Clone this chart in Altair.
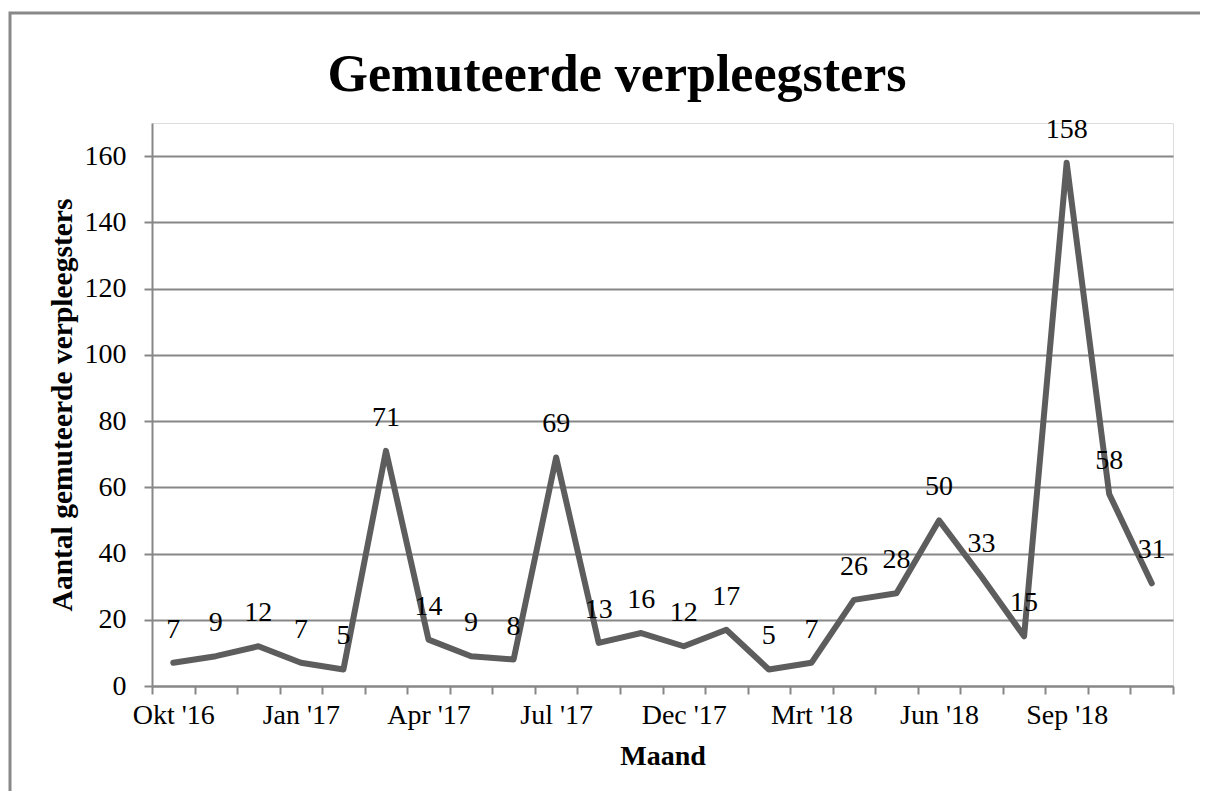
import json
import altair as alt
import pandas as pd

months = ["Okt '16", "Nov '16", "Dec '16", "Jan '17", "Feb '17", "Mrt '17",
          "Apr '17", "Mei '17", "Jun '17", "Jul '17", "Okt '17", "Nov '17",
          "Dec '17", "Jan '18", "Feb '18", "Mrt '18", "Apr '18", "Mei '18",
          "Jun '18", "Jul '18", "Aug '18", "Sep '18", "Okt '18", "Nov '18"]
values = [7, 9, 12, 7, 5, 71, 14, 9, 8, 69, 13, 16, 12, 17, 5, 7, 26, 28,
          50, 33, 15, 158, 58, 31]
shown_labels = months[::3]
y_ticks = [0, 20, 40, 60, 80, 100, 120, 140, 160]
title_text = "Gemuteerde verpleegsters"

df = pd.DataFrame({"maand": months, "aantal": values})

FONT = "Liberation Serif"
GRID = "#878787"
LINE = "#5d5d5d"

label_expr = ("indexof(" + json.dumps(shown_labels) +
              ", datum.value) >= 0 ? datum.value : ''")

x_enc = alt.X("maand:N", sort=months,
              scale=alt.Scale(type="band", paddingInner=0, paddingOuter=0),
              axis=alt.Axis(title="Maand", labelAngle=0, tickBand="extent",
                            labelExpr=label_expr, labelFont=FONT, labelFontSize=28,
                            labelColor="black", labelPadding=7,
                            tickColor=GRID, tickSize=8, tickWidth=2,
                            domainColor=GRID, domainWidth=2, grid=False,
                            titleFont=FONT, titleFontSize=28, titleFontWeight="bold",
                            titleColor="black", titleY=70, titleBaseline="middle"))
y_enc = alt.Y("aantal:Q",
              scale=alt.Scale(domain=[0, 170], nice=False),
              axis=alt.Axis(title="Aantal gemuteerde verpleegsters", values=y_ticks,
                            labelFont=FONT, labelFontSize=28, labelColor="black",
                            labelPadding=18, tickColor=GRID, tickSize=8, tickWidth=2,
                            domainColor=GRID, domainWidth=2,
                            grid=True, gridColor=GRID, gridWidth=2,
                            titleFont=FONT, titleFontSize=29.5, titleFontWeight="bold",
                            titleColor="black", titleX=-90, titleBaseline="middle"))

base = alt.Chart(df)

line = base.mark_line(color=LINE, strokeWidth=6, strokeJoin="round",
                      strokeCap="round").encode(x=x_enc, y=y_enc)

labels = base.mark_text(font=FONT, fontSize=28, color="black", dy=-33,
                        baseline="middle").encode(
    x=alt.X("maand:N", sort=months), y="aantal:Q", text="aantal:Q")

border = alt.Chart(pd.DataFrame({"b": [0]})).mark_rect(
    fill=None, stroke="#888888", strokeWidth=3).encode(
    x=alt.value(-142), x2=alt.value(1100), y=alt.value(-110), y2=alt.value(720))

title = alt.Chart(pd.DataFrame({"t": [title_text]})).mark_text(
    font=FONT, fontSize=52, fontWeight="bold", color="black",
    align="center", baseline="alphabetic").encode(
    text="t:N", x=alt.value(465), y=alt.value(-32))

chart = alt.layer(border, title, line, labels).properties(
    width=1021, height=563,
    autosize=alt.AutoSizeParams(type="none"),
    padding={"left": 144, "top": 115, "right": 27, "bottom": 105},
).configure_view(stroke=None).configure(background="white")

chart.save("out.html", embed_options={"renderer": "svg", "actions": False})
